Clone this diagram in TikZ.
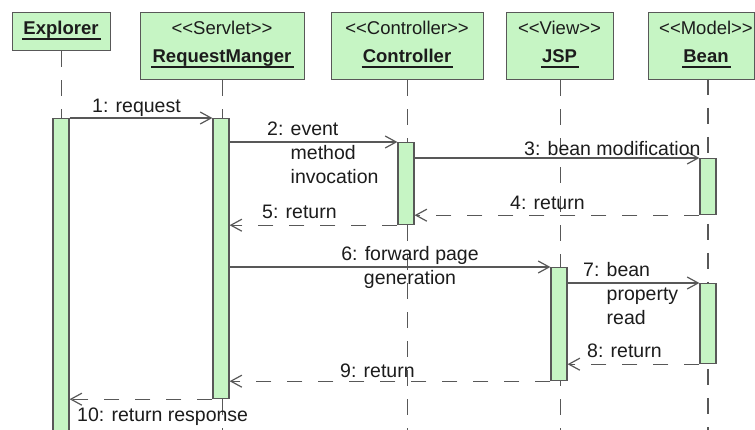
\documentclass[tikz,border=0pt]{standalone}
\usepackage{fontspec}
\setmainfont{Liberation Sans}
\usetikzlibrary{arrows.meta}
\definecolor{boxfill}{RGB}{198,245,196}
\definecolor{edge}{RGB}{88,88,88}
\definecolor{ink}{RGB}{28,28,28}
% guillemet-free stereotype brackets
\newcommand\stOpen{<\kern0pt<}
\newcommand\stClose{>\kern0pt>}

\begin{document}
\begin{tikzpicture}[x=1pt,y=-1pt,
  objbox/.style={draw=edge, fill=boxfill, line width=1.2pt, inner sep=0pt, anchor=north west},
  stereo/.style={inner sep=0pt, anchor=base, text=ink, font=\fontsize{18.5}{22}\selectfont},
  objname/.style={inner sep=0pt, anchor=base, text=ink, font=\fontsize{18.5}{22}\selectfont\bfseries},
  uline/.style={draw=ink, line width=1.6pt},
  lifeline/.style={draw=edge, line width=1.2pt, dash pattern=on 16pt off 13pt},
  actbar/.style={draw=edge, fill=boxfill, line width=1.2pt, inner sep=0pt, minimum width=16pt, anchor=north},
  msg/.style={draw=edge, line width=1.2pt, -{Straight Barb[length=11pt,width=12pt]}},
  reply/.style={msg, dash pattern=on 15pt off 16pt},
  lbl/.style={inner sep=0pt, text=ink, anchor=base west, font=\fontsize{19.5}{23.7}\selectfont},
]
\useasboundingbox[fill=white] (0,0) rectangle (755,430);
\coordinate (bottom) at (0,445);

% object boxes
\node[objbox, minimum width=98pt, minimum height=38pt] (exBox) at (12,12) {};
\node[objbox, minimum width=164pt, minimum height=67pt] (rmBox) at (140,12) {};
\node[objbox, minimum width=152pt, minimum height=67pt] (ctBox) at (331,12) {};
\node[objbox, minimum width=107pt, minimum height=67pt] (jsBox) at (506,12) {};
\node[objbox, minimum width=106pt, minimum height=67pt] (bnBox) at (648,12) {};

% box titles
\node[objname] (exName) at (61,35) {Explorer};
\node[stereo] (rmSt) at (222,35) {\stOpen Servlet\stClose};
\node[objname] (rmName) at (222,63) {RequestManger};
\node[stereo] (ctSt) at (407,35) {\stOpen Controller\stClose};
\node[objname] (ctName) at (407,63) {Controller};
\node[stereo] (jsSt) at (559.5,35) {\stOpen View\stClose};
\node[objname] (jsName) at (559.5,63) {JSP};
\node[stereo] (bnSt) at (706,35) {\stOpen Model\stClose};
\node[objname] (bnName) at (706,63) {Bean};
\foreach \n in {exName,rmName,ctName,jsName,bnName}
  \draw[uline] ([xshift=-1pt,yshift=-4pt]\n.base west) -- ([xshift=2pt,yshift=-4pt]\n.base east);

% lifelines
\foreach \b in {exBox,rmBox,ctBox,jsBox}
  \draw[lifeline] (\b.south) -- (\b.south |- bottom);
\coordinate (bnTop) at (708,79);
\draw[lifeline] (bnTop) -- (bnTop |- bottom);

% activation bars
\node[actbar, minimum height=330pt] (exAct) at (61,118) {};
\node[actbar, minimum height=280pt] (rmAct) at (221,118) {};
\node[actbar, minimum height=82pt] (ctAct) at (406,142) {};
\node[actbar, minimum height=56pt] (bnAct1) at (708,158) {};
\node[actbar, minimum height=113pt] (jsAct) at (559,267) {};
\node[actbar, minimum height=80pt] (bnAct2) at (708,283) {};

% messages
\draw[msg] (exAct.north east) -- (rmAct.north west);
\node[lbl] (m1) at (92,113) {1: request};

\draw[msg] (rmAct.east |- ctAct.north) -- (ctAct.north west);
\node[lbl] (m2a) at (267,136) {2: event};
\node[lbl] (m2b) at (267,160) {\hphantom{2: }method};
\node[lbl] (m2c) at (267,183.7) {\hphantom{2: }invocation};

\draw[msg] (ctAct.east |- bnAct1.north) -- (bnAct1.north west);
\node[lbl] (m3) at (524,156) {3: bean modification};

\draw[reply] (bnAct1.south west) -- (ctAct.east |- bnAct1.south);
\node[lbl] (m4) at (510,210) {4: return};

\draw[reply] (ctAct.south west) -- (rmAct.east |- ctAct.south);
\node[lbl] (m5) at (262,219) {5: return};

\draw[msg] (rmAct.east |- jsAct.north) -- (jsAct.north west);
\node[lbl, anchor=base] (m6a) at (410,261) {6: forward page};
\node[lbl, anchor=base] (m6b) at (410,285) {generation};

\draw[msg] (jsAct.east |- bnAct2.north) -- (bnAct2.north west);
\node[lbl] (m7a) at (583,277) {7: bean};
\node[lbl] (m7b) at (583,300.7) {\hphantom{7: }property};
\node[lbl] (m7c) at (583,324.4) {\hphantom{7: }read};

\draw[reply] (bnAct2.south west) -- (jsAct.east |- bnAct2.south);
\node[lbl] (m8) at (587,357) {8: return};

\draw[reply] (jsAct.south west) -- (rmAct.east |- jsAct.south);
\node[lbl] (m9) at (340,377) {9: return};

\draw[reply] (rmAct.south west) -- (exAct.east |- rmAct.south);
\node[lbl] (m10) at (77,421) {10: return response};
\end{tikzpicture}
\end{document}
